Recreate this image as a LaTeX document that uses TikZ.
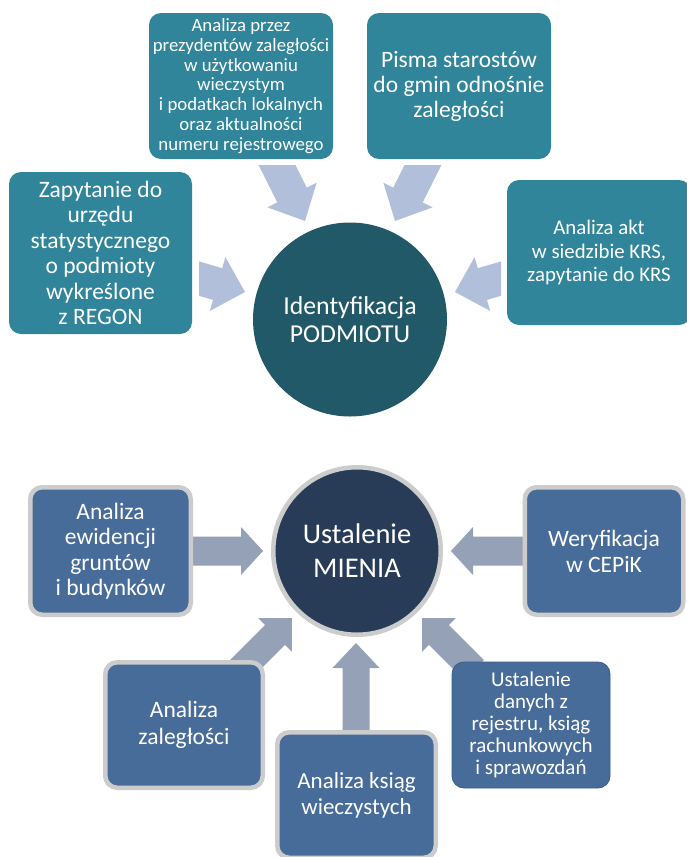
\documentclass[tikz,border=0pt]{standalone}
\usepackage{fontspec}
\setmainfont{Carlito}
\usetikzlibrary{calc}
\definecolor{tealbox}{RGB}{49,133,155}
\definecolor{tealcirc}{RGB}{33,89,104}
\definecolor{toparr}{RGB}{177,191,219}
\definecolor{bluebox}{RGB}{72,108,154}
\definecolor{navycirc}{RGB}{40,60,87}
\definecolor{botarr}{RGB}{149,161,182}
\definecolor{frame}{RGB}{204,204,204}
\definecolor{darkedge}{RGB}{60,92,135}
\newcommand\blockarrow[6]{%
  \path let \p1=($(#2)-(#1)$) in \pgfextra{%
    \pgfmathsetmacro\baang{atan2(\y1,\x1)}%
    \pgfmathsetmacro\balen{veclen(\x1,\y1)}%
    \global\let\baang\baang\global\let\balen\balen};
  \fill[#6, shift={(#1)}, rotate=\baang, x=1pt, y=1pt]
    (0,{-#3/2}) -- ({\balen-#5},{-#3/2}) -- ({\balen-#5},{-#4/2}) -- (\balen,0)
    -- ({\balen-#5},{#4/2}) -- ({\balen-#5},{#3/2}) -- (0,{#3/2}) -- cycle;
}
\tikzset{
  tbox/.style={rectangle, rounded corners=12pt, fill=tealbox, text=white, align=center, inner sep=0pt},
  bbox/.style={rectangle, rounded corners=12pt, fill=bluebox, draw=frame, line width=4.5pt, text=white, align=center, inner sep=0pt},
  plainbox/.style={rectangle, rounded corners=12pt, fill=bluebox, draw=darkedge, line width=0.8pt, text=white, align=center, inner sep=0pt},
}
\begin{document}
\begin{tikzpicture}[x=1pt, y=-1pt]
\useasboundingbox (0,0) rectangle (686,857);
\fill[white] (0,0) rectangle (686,857);

% ---------- top part: Identyfikacja PODMIOTU ----------
\coordinate (aA1) at (271,153); \coordinate (aA2) at (305,221);
\coordinate (aB1) at (429,153); \coordinate (aB2) at (395,221);
\coordinate (aC1) at (190,276); \coordinate (aC2) at (245,292);
\coordinate (aD1) at (510,276); \coordinate (aD2) at (455,292);
\begin{scope}
  \clip (0,165) rectangle (686,857);
  \blockarrow{aA1}{aA2}{33}{55}{29}{toparr}
  \blockarrow{aB1}{aB2}{33}{55}{29}{toparr}
\end{scope}
\begin{scope}
  \clip (199,0) rectangle (501,857);
  \blockarrow{aC1}{aC2}{33}{56}{28.5}{toparr}
  \blockarrow{aD1}{aD2}{33}{56}{28.5}{toparr}
\end{scope}

\node[tbox, minimum width=184pt, minimum height=146pt, font=\fontsize{18.8}{19.8}\selectfont] (A) at (241,86)
  {Analiza przez\\prezydentów zaległości\\w użytkowaniu\\wieczystym\\i podatkach lokalnych\\oraz aktualności\\numeru rejestrowego};
\node[tbox, minimum width=184pt, minimum height=146pt, font=\fontsize{23.5}{25}\selectfont] (B) at (459,86)
  {Pisma starostów\\do gmin odnośnie\\zaległości};
\node[tbox, minimum width=183pt, minimum height=162pt, font=\fontsize{23.5}{25.5}\selectfont] (C) at (100.5,253)
  {Zapytanie do\\urzędu\\statystycznego\\o podmioty\\wykreślone\\z REGON};
\node[tbox, minimum width=184pt, minimum height=145pt, font=\fontsize{20.8}{23.5}\selectfont] (D) at (599,252.5)
  {Analiza akt\\w siedzibie KRS,\\zapytanie do KRS};
\node[circle, fill=tealcirc, text=white, align=center, inner sep=0pt, minimum size=194pt, font=\fontsize{25.8}{28}\selectfont] (P) at (350,319.5)
  {Identyfikacja\\PODMIOTU};

% ---------- bottom part: Ustalenie MIENIA ----------
\coordinate (bL1) at (190,551); \coordinate (bL2) at (263,551);
\coordinate (bR1) at (524,551); \coordinate (bR2) at (451,551);
\coordinate (bV1) at (356,740); \coordinate (bV2) at (356,643);
\coordinate (bDL1) at (240,670); \coordinate (bDL2) at (292,618);
\coordinate (bDR1) at (474,670); \coordinate (bDR2) at (422,618);
\blockarrow{bL1}{bL2}{29}{48}{22}{botarr}
\blockarrow{bR1}{bR2}{29}{48}{22}{botarr}
\blockarrow{bV1}{bV2}{27}{47}{25}{botarr}
\blockarrow{bDL1}{bDL2}{28}{48}{24}{botarr}
\blockarrow{bDR1}{bDR2}{28}{48}{24}{botarr}

\node[circle, fill=navycirc, draw=frame, line width=4.5pt, text=white, align=center, inner sep=0pt, minimum size=167.5pt, font=\fontsize{28.5}{34}\selectfont] (M) at (357,551)
  {Ustalenie\\MIENIA};
\node[bbox, minimum width=160.5pt, minimum height=127.5pt, font=\fontsize{23.5}{25.5}\selectfont] (E) at (110.5,551)
  {Analiza\\ewidencji\\gruntów\\i budynków};
\node[bbox, minimum width=158.5pt, minimum height=127.5pt, font=\fontsize{23.5}{26}\selectfont] (W) at (604,551)
  {Weryfikacja\\w CEPiK};
\node[bbox, minimum width=157.5pt, minimum height=125.5pt, font=\fontsize{23.5}{27}\selectfont] (Z) at (184,725)
  {Analiza\\zaległości};
\node[bbox, minimum width=158.5pt, minimum height=125.5pt, font=\fontsize{23}{26}\selectfont] (K) at (356.5,795)
  {Analiza ksiąg\\wieczystych};
\node[plainbox, minimum width=158pt, minimum height=126pt, font=\fontsize{21}{22}\selectfont] (U) at (531,725)
  {Ustalenie\\danych z\\rejestru, ksiąg\\rachunkowych\\i sprawozdań};
\end{tikzpicture}
\end{document}
